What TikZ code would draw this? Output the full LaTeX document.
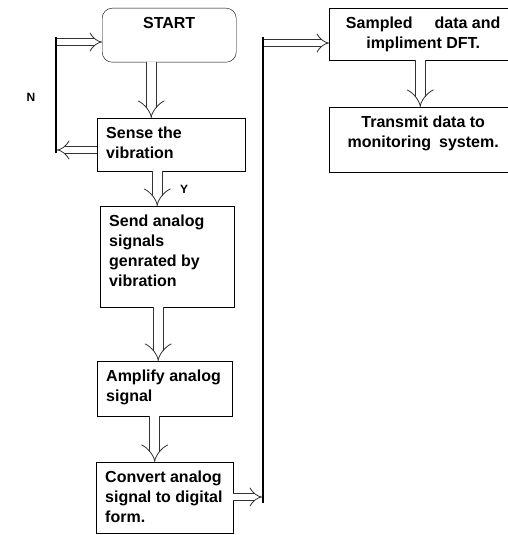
\documentclass[tikz,border=0pt]{standalone}
\usepackage{fontspec}
\setmainfont{Liberation Sans}
\usetikzlibrary{arrows.meta}
\newcommand{\boxtext}[3]{\parbox[t][#2][t]{#1}{#3}}

\begin{document}
\begin{tikzpicture}[x=1pt, y=-1pt,
  every node/.style = {font=\fontsize{16}{20}\selectfont\bfseries},
  box/.style = {draw, anchor=north west, inner sep=9pt},
  tag/.style = {font=\fontsize{12}{14}\selectfont\bfseries},
  flow/.style = {line width=0.8pt, draw=black!80, double=white, double distance=9pt, -{Implies[length=9pt, width=20pt]}},
  sideflow/.style = {line width=0.8pt, draw=black!80, double=white, double distance=6pt, -{Implies[length=7pt, width=15pt]}},
  rail/.style = {line width=2.5pt}]
  \useasboundingbox (0,0) rectangle (507,535);
  % left column
  \node[box, rounded corners=10pt] (start) at (102,8) {\boxtext{116pt}{36pt}{\centering START}};
  \node[box] (sense) at (97,118) {\boxtext{130pt}{35pt}{Sense the\\vibration}};
  \node[box] (send) at (100,206) {\boxtext{116pt}{83pt}{Send analog\\signals\\genrated by\\vibration}};
  \node[box] (amplify) at (97,361) {\boxtext{117pt}{37pt}{Amplify analog\\signal}};
  \node[box] (convert) at (96,462) {\boxtext{119pt}{53pt}{Convert analog\\signal to digital\\form.}};
  % right column
  \node[box] (sampled) at (329,8) {\boxtext{170pt}{34pt}{\centering Sampled\hspace{22pt}data and\\impliment DFT.}};
  \node[box] (transmit) at (329,107) {\boxtext{170pt}{47pt}{\centering Transmit data to\\monitoring\hspace{8pt}system.}};
  \node[tag] (nlabel) at (31,97) {N};
  \node[tag] (ylabel) at (184,189) {Y};
  % loop back when no vibration
  \coordinate (ntop) at (56,37);
  \coordinate (nbot) at (56,153);
  \coordinate (nturn) at (57,150);
  \coordinate (nin) at (57,42);
  \draw[rail] (ntop) -- (nbot);
  \draw[sideflow] (sense.west |- nturn) -- (nturn);
  \draw[sideflow] (nin) -- (nin -| start.west);
  % link to the right column
  \coordinate (rtop) at (263,37);
  \coordinate (rbot) at (263,503);
  \coordinate (rin) at (262,497);
  \coordinate (rout) at (264,43);
  \draw[rail] (rtop) -- (rbot);
  \draw[sideflow] (convert.east |- rin) -- (rin);
  \draw[sideflow] (rout) -- (rout -| sampled.west);
  % steps
  \draw[flow] ([xshift=-18pt]start.south) -- ([xshift=-18pt]start.south |- sense.north);
  \draw[flow] ([xshift=-14pt]sense.south) -- ([xshift=-14pt]sense.south |- send.north);
  \draw[flow] ([xshift=-9pt]send.south) -- ([xshift=-9pt]send.south |- amplify.north);
  \draw[flow] ([xshift=-10pt]amplify.south) -- ([xshift=-10pt]amplify.south |- convert.north);
  \draw[flow] ([xshift=-3pt]sampled.south) -- ([xshift=-3pt]sampled.south |- transmit.north);
\end{tikzpicture}
\end{document}
